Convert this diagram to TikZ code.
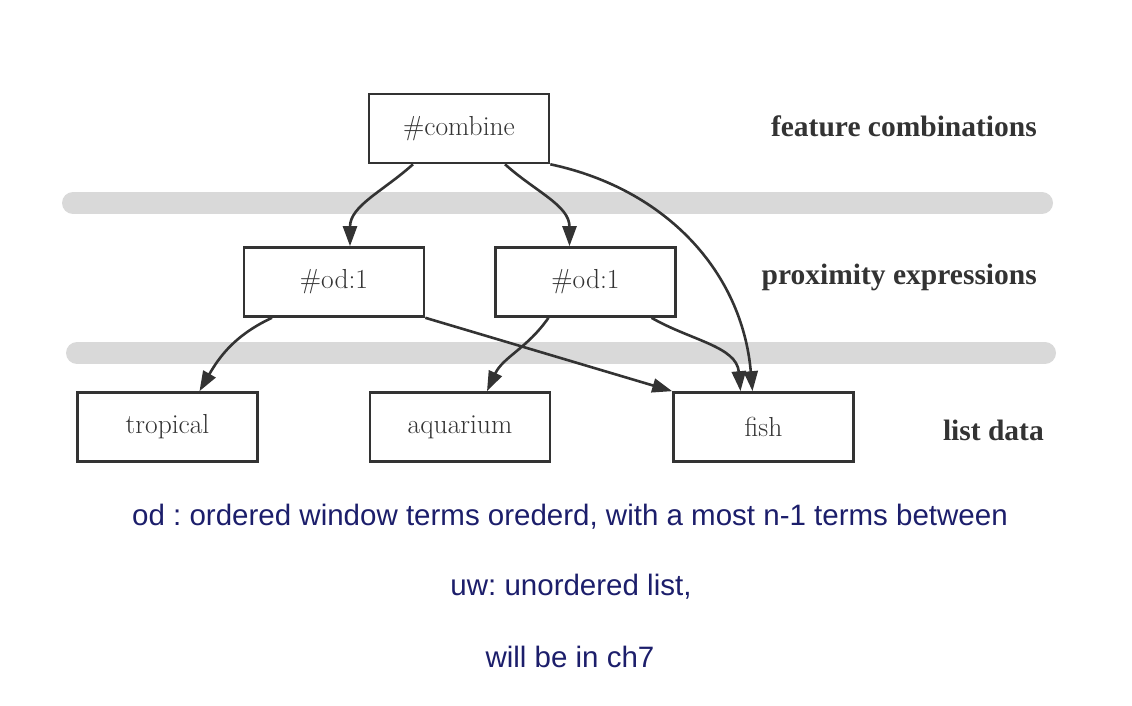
\documentclass[tikz,border=0pt]{standalone}
\usepackage{fontspec}
\newfontfamily\notefont{Liberation Sans}
\newfontfamily\levelfont{Liberation Serif}
\usetikzlibrary{arrows.meta}
\definecolor{edgegray}{RGB}{51,51,51}
\definecolor{bandgray}{RGB}{217,217,217}
\definecolor{noteblue}{RGB}{28,30,107}
\frenchspacing
\begin{document}
\begin{tikzpicture}
  \tikzset{
    box/.style={
      rectangle,
      draw=edgegray,
      line width=2.6pt,
      minimum width=180pt,
      minimum height=69pt,
      font=\fontsize{27.5}{27.5}\selectfont,
      text=edgegray,
      text centered
    },
    level/.style={
      anchor=base east,
      inner sep=0pt,
      text=edgegray,
      font=\levelfont\bfseries\fontsize{29.5}{29.5}\selectfont
    },
    note/.style={
      text=noteblue,
      font=\notefont\fontsize{29.5}{29.5}\selectfont
    },
    band/.style={
      line width=22pt,
      line cap=round,
      draw=bandgray
    },
    link/.style={
      draw=edgegray,
      line width=2.6pt,
      -{Triangle[length=20pt,width=14pt]}
    }
  }
  \useasboundingbox (0pt, 0pt) rectangle (1132pt, 706pt);

  % layer bands
  \draw[band] (73pt, 503pt) -- (1042pt, 503pt);
  \draw[band] (77pt, 353pt) -- (1045pt, 353pt);

  \node[box] (combine) at (459pt, 577.5pt) {\#combine};
  \node[box] (odA) at (334pt, 424pt) {\#od:1};
  \node[box] (odB) at (585.5pt, 424pt) {\#od:1};
  \node[box] (tropical) at (167.5pt, 279pt) {tropical};
  \node[box] (aquarium) at (460pt, 279pt) {aquarium};
  \node[box] (fish) at (763.5pt, 279pt) {fish};

  \node[level] (featlbl) at (1037pt, 569pt) {feature combinations};
  \node[level] (proxlbl) at (1037pt, 421pt) {proximity expressions};
  \node[level] (listlbl) at (1044pt, 265pt) {list data};

  \node[note] (note1) at (570pt, 189pt) {od : ordered window terms orederd, with a most n-1 terms between};
  \node[note] (note2) at (571pt, 119pt) {uw: unordered list,};
  \node[note] (note3) at (570pt, 49pt) {will be in ch7};

  \draw[link] ([xshift=-46pt]combine.south) to[out=-138, in=90] ([xshift=16pt]odA.north);
  \draw[link] ([xshift=46pt]combine.south) to[out=-42, in=90] ([xshift=-16pt]odB.north);
  \draw[link] (combine.south east) to[out=-12, in=95] ([xshift=-11pt]fish.north);
  \draw[link] ([xshift=-62pt]odA.south) to[out=-155, in=60] ([xshift=32pt]tropical.north);
  \draw[link] (odA.south east) -- (fish.north west);
  \draw[link] ([xshift=-37pt]odB.south) to[out=-125, in=65] ([xshift=27pt]aquarium.north);
  \draw[link] ([xshift=66pt]odB.south) to[out=-30, in=95] ([xshift=-23pt]fish.north);
\end{tikzpicture}
\end{document}
